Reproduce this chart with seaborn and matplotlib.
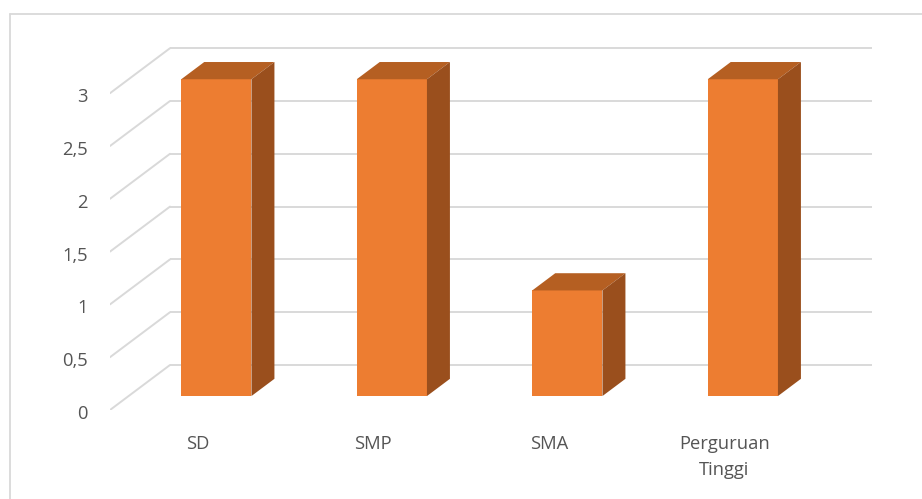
import matplotlib
matplotlib.use("Agg")
import matplotlib.pyplot as plt
import matplotlib.transforms as mtrans
from matplotlib.patches import Polygon
from matplotlib.lines import Line2D
import seaborn as sns
import pandas as pd

categories = ["SD", "SMP", "SMA", "Perguruan\nTinggi"]
values = [3, 3, 1, 3]
ytick_values = [0, 0.5, 1, 1.5, 2, 2.5, 3]
ytick_labels = ["0", "0,5", "1", "1,5", "2", "2,5", "3"]

FRONT = "#ED7D31"
TOP = "#B55F22"
SIDE = "#9A4F1D"
GRID = "#D9D9D9"
TEXT = "#555555"

sns.set_theme(style="white")
plt.rcParams["font.family"] = ["Open Sans", "DejaVu Sans"]

W, H = 922, 499
fig = plt.figure(figsize=(W / 100, H / 100), dpi=100)
x0_px, x_unit = 110, 175.5
y0_px, y_unit = 410, 105.6
xmin, xmax = -0.5, 3.85
ymin, ymax = 0, 3.45
ax = fig.add_axes([x0_px / W, (H - y0_px) / H,
                   (xmax - xmin) * x_unit / W, (ymax - ymin) * y_unit / H])

# depth vector (full floor depth) in data units
DX, DY = 60 / x_unit, 45 / y_unit
f_front, f_depth = 0.31, 0.383

df = pd.DataFrame({"cat": categories, "val": values})
sns.barplot(data=df, x="cat", y="val", color=FRONT, saturation=1, width=0.4,
            ax=ax, zorder=3, linewidth=0)

ax.set_xlim(xmin, xmax)
ax.set_ylim(ymin, ymax)

# back wall gridlines + side diagonals
for v in ytick_values:
    ax.plot([-0.5 + DX, 3.5 + DX], [v + DY, v + DY], color=GRID, lw=1.4,
            zorder=1, solid_capstyle="butt")
    ax.plot([-0.5, -0.5 + DX], [v, v + DY], color=GRID, lw=1.4, zorder=1)

# 3D faces for each bar
ox, oy = f_front * DX, f_front * DY
dx, dy = f_depth * DX, f_depth * DY
for p in list(ax.patches):
    x, w, h = p.get_x(), p.get_width(), p.get_height()
    p.set_x(x + ox)
    p.set_y(oy)
    xa, xb = x + ox, x + ox + w
    yb, yt = oy, oy + h
    top = Polygon([(xa, yt), (xb, yt), (xb + dx, yt + dy), (xa + dx, yt + dy)],
                  closed=True, facecolor=TOP, edgecolor="none", zorder=3)
    side = Polygon([(xb, yb), (xb, yt), (xb + dx, yt + dy), (xb + dx, yb + dy)],
                   closed=True, facecolor=SIDE, edgecolor="none", zorder=3)
    ax.add_patch(top)
    ax.add_patch(side)

ax.set_yticks(ytick_values)
ax.set_yticklabels(ytick_labels, va="center")
ax.set_xticks(range(len(categories)))
ax.set_xticklabels(categories, linespacing=1.55)
ax.tick_params(axis="y", length=0, pad=16, labelsize=13.2, labelcolor=TEXT)
ax.tick_params(axis="x", length=0, pad=18, labelsize=13.2, labelcolor=TEXT)
shift = mtrans.ScaledTranslation(0, -4 / 100, fig.dpi_scale_trans)
for t in ax.get_yticklabels():
    t.set_transform(t.get_transform() + shift)
ax.set_xlabel("")
ax.set_ylabel("")
for s in ax.spines.values():
    s.set_visible(False)
ax.grid(False)

# outer chart frame
fx, fy = 9.5 / W, (H - 13.5) / H
fig.add_artist(Line2D([fx, fx], [0, fy], color=GRID, lw=1.3, transform=fig.transFigure))
fig.add_artist(Line2D([fx, 1], [fy, fy], color=GRID, lw=1.3, transform=fig.transFigure))

fig.savefig("out.png", dpi=100)
